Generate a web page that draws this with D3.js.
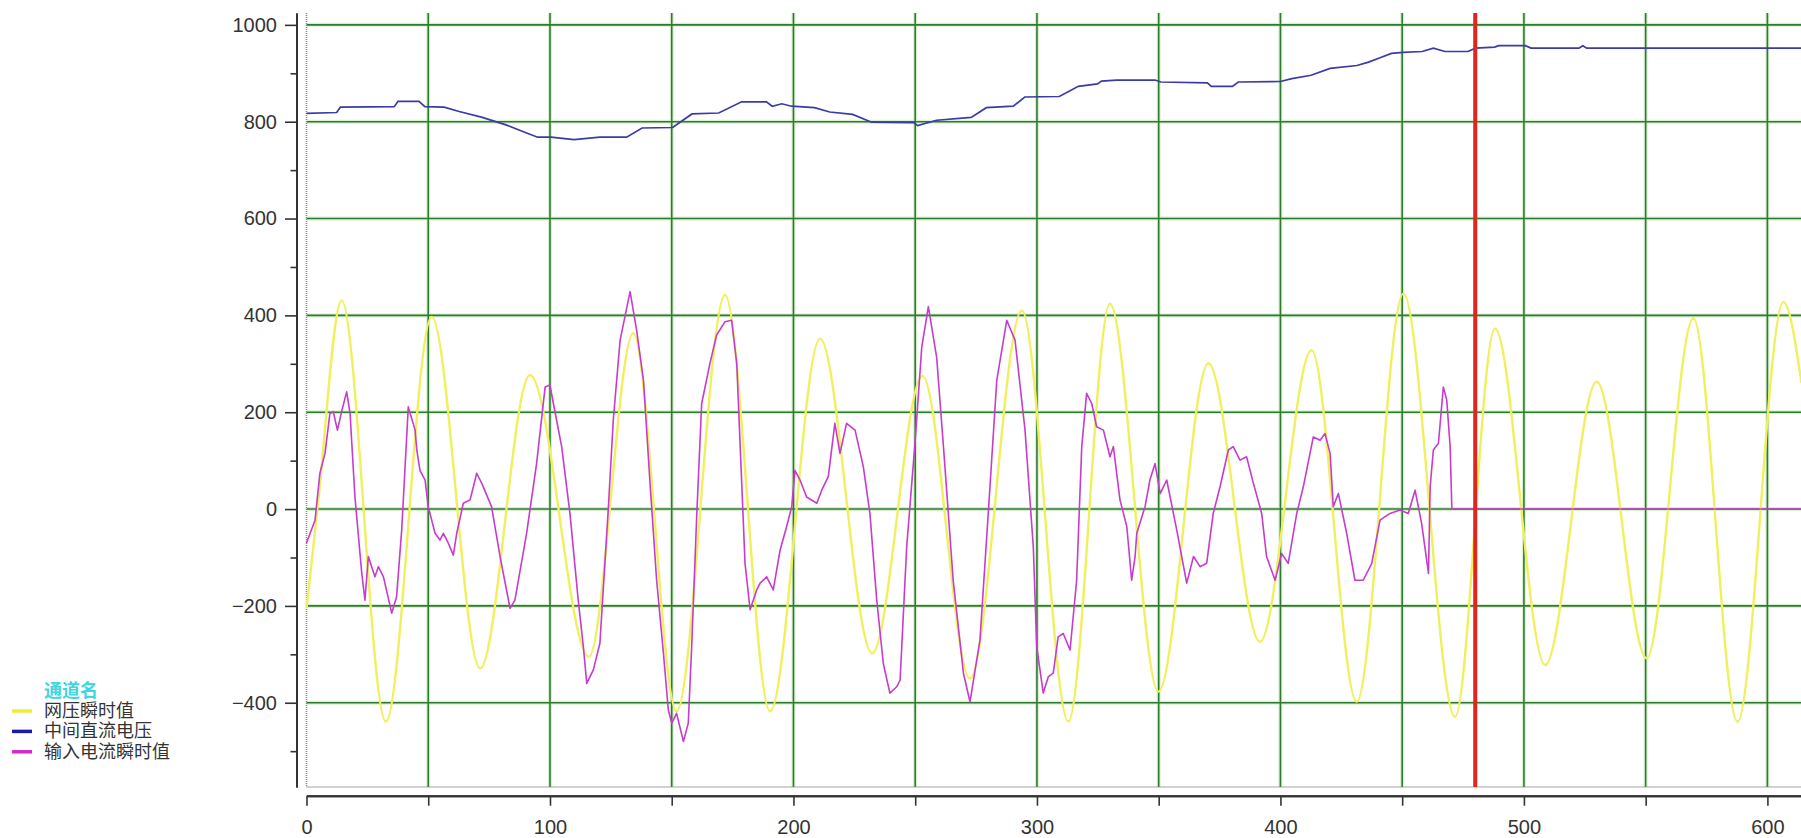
<!DOCTYPE html>
<html>
<head>
<meta charset="utf-8">
<script src="https://cdn.jsdelivr.net/npm/d3@7"></script>
<style>
  body { margin: 0; background: #fff; }
  svg { display: block; }
</style>
</head>
<body>
<svg id="chart"></svg>
<script>
// values: [sample index, value]
const gridVoltage = [
  [0, -205], [4.5, 0], [14.4, 431], [32.6, -439], [51.4, 397], [71.3, -329], [91.8, 277],
  [116, -305], [134.2, 363], [152, -418], [171.9, 442], [190.4, -418], [210.9, 352],
  [232.3, -298], [253, 275], [272.5, -350], [293.8, 410], [312.9, -439], [330, 424],
  [349.9, -377], [370.4, 301], [391.6, -274], [412.8, 328], [431.3, -398], [450.5, 445],
  [471.7, -429], [488.1, 373], [508.7, -322], [529.9, 263], [550.4, -308], [569.6, 394],
  [587.7, -439], [606.6, 428], [614, 260]
];

const dcBusVoltage = [
  [0, 817], [12.4, 819], [13.9, 830], [36, 831], [37.6, 842], [46.2, 842], [48.6, 831],
  [56.5, 830], [62.7, 821], [72.2, 809], [81.6, 794], [87.8, 782], [94.9, 768], [100.4, 768],
  [109.9, 763], [120.5, 768], [131.5, 768], [137.8, 787], [150.4, 788], [158.3, 816],
  [169.3, 818], [178.7, 841], [188.9, 841], [191.3, 832], [195.2, 837], [199.2, 832],
  [208.6, 829], [214.9, 820], [224.3, 815], [232.1, 799], [249.4, 798], [251, 792],
  [258.8, 803], [273, 809], [279.2, 829], [290.3, 832], [295, 851], [309.2, 852], [317, 873],
  [324.9, 878], [326.5, 884], [332.7, 886], [348.5, 886], [350.9, 882], [370, 880],
  [371.6, 873], [380.3, 873], [382.7, 882], [400, 883], [404.7, 889], [412.6, 896],
  [420.4, 910], [431.4, 916], [436.2, 923], [440.9, 932], [445.6, 941], [450.3, 943],
  [458.2, 945], [462.8, 952], [467.6, 945], [477, 945], [480.1, 952], [488, 954],
  [489.6, 957], [500.6, 957], [502.9, 952], [522.6, 952], [524.2, 957], [525.8, 952], [614, 952]
];

const inputCurrent = [
  [0, -70], [3.5, -23], [5.5, 74], [7.6, 115], [9.6, 197], [11, 201], [12.7, 163], [14.4, 201],
  [16.5, 242], [17.9, 197], [19.9, 25], [22.7, -133], [24, -188], [25.4, -98], [28.1, -140],
  [29.5, -119], [31.6, -140], [35, -215], [37, -181], [39.1, -43], [41.8, 211], [44.6, 163],
  [45.3, 122], [46.6, 80], [48.7, 60], [50, 5], [52.8, -50], [54.8, -64], [56.2, -50],
  [58.3, -71], [60.3, -95], [61.7, -50], [64.4, 12], [67.2, 19], [69.9, 74], [72, 53], [76, 5],
  [79.5, -98], [83.6, -205], [85.6, -188], [90.4, -50], [94.5, 94], [98, 252], [100, 256],
  [101.4, 218], [104.8, 129], [108.2, -9], [111.6, -188], [113.7, -284], [115.1, -360],
  [117.8, -332], [120.5, -277], [124, 5], [126, 184], [128.8, 349], [132.9, 449], [135.6, 369],
  [138.4, 266], [141, 60], [143.8, -147], [146.6, -298], [148.6, -415], [150, -442],
  [152, -422], [154.8, -480], [156.8, -442], [158.2, -284], [160.3, -9], [162.3, 218],
  [165.7, 301], [168.4, 359], [171.9, 387], [174.6, 390], [176.7, 301], [178.7, 60],
  [180.1, -112], [182.2, -208], [184.9, -167], [186.3, -153], [189, -140], [191.7, -167],
  [194.5, -85], [197.2, -36], [199.3, 5], [200.6, 80], [202.7, 60], [205.4, 25], [209.6, 12],
  [211.6, 39], [214.3, 67], [217, 177], [219.1, 115], [221.8, 177], [225.3, 163], [228.7, 87],
  [231.4, -9], [234.2, -188], [236.9, -319], [239.6, -380], [242.4, -367], [243.8, -353],
  [246.5, -78], [250, 142], [252.7, 335], [255.4, 418], [258.8, 314], [261.6, 129],
  [265.6, -147], [269.8, -339], [272.5, -398], [276.6, -270], [280, -9], [283.5, 266],
  [287.6, 390], [291, 349], [295.1, 163], [298.5, -78], [299.9, -284], [302.6, -380],
  [304.7, -346], [306.7, -339], [308.7, -264], [310.8, -257], [313.6, -291], [316.3, -147],
  [318.4, 129], [320.4, 239], [322.5, 218], [324.5, 170], [327.3, 163], [330, 108],
  [331.4, 129], [334.1, 19], [336.9, -36], [338.9, -147], [340.3, -98], [341, -50], [344.4, 5],
  [346.4, 60], [348.5, 94], [350.6, 32], [353.3, 60], [357.4, -43], [361.5, -153],
  [364.3, -98], [367, -119], [369.7, -112], [372.4, -9], [375.2, 46], [378.6, 122],
  [380.6, 129], [383.4, 101], [386.1, 108], [388.9, 53], [392.3, -9], [394.3, -98],
  [397.8, -147], [400.5, -92], [403.2, -112], [406.7, -9], [409.4, 46], [413.5, 149],
  [416.3, 142], [418.3, 156], [420.4, 115], [421.7, 5], [423.8, 32], [427.2, -50],
  [430.6, -147], [434, -147], [437.5, -112], [440.9, -23], [445, -9], [449.1, -2], [452.5, -9],
  [455.3, 39], [458, -30], [460.8, -133], [461.5, 46], [462.8, 122], [464.9, 136],
  [466.9, 252], [468.3, 225], [469.7, 129], [470.4, 0], [614, 0]
];

const cursorAt = 480;

const yMajorTicks = [-400, -200, 0, 200, 400, 600, 800, 1000];
const yMinorTicks = [-500, -300, -100, 100, 300, 500, 700, 900];
const xMajorTicks = [0, 100, 200, 300, 400, 500, 600];
const xMinorTicks = [50, 150, 250, 350, 450, 550];
const xGridLines = [50, 100, 150, 200, 250, 300, 350, 400, 450, 500, 550, 600];

const legendTitle = '通道名';
const seriesNames = ['网压瞬时值', '中间直流电压', '输入电流瞬时值'];
const legendColors = ['#eeee33', '#1a1aa8', '#d62ac8'];

const width = 1801, height = 838;
const plot = { left: 306.5, right: 1801, top: 13, bottom: 787 };

const svg = d3.select('#chart')
  .attr('width', width)
  .attr('height', height);

const x = d3.scaleLinear().domain([0, 613.8]).range([plot.left, plot.right]);
const y = d3.scaleLinear().domain([-574, 1024.5]).range([plot.bottom, plot.top]);

// grid
const grid = svg.append('g');
[['#d9f0cf', 4], ['#2f7a32', 1.6]].forEach(([col, w]) => {
  grid.selectAll(null)
    .data(yMajorTicks)
    .enter().append('line')
    .attr('x1', plot.left).attr('x2', plot.right)
    .attr('y1', d => y(d)).attr('y2', d => y(d))
    .attr('stroke', col).attr('stroke-width', w);
  grid.selectAll(null)
    .data(xGridLines)
    .enter().append('line')
    .attr('x1', d => x(d)).attr('x2', d => x(d))
    .attr('y1', plot.top).attr('y2', plot.bottom)
    .attr('stroke', col).attr('stroke-width', w);
});

// dotted plot frame
svg.append('line')
  .attr('x1', plot.left).attr('x2', plot.left)
  .attr('y1', plot.top).attr('y2', plot.bottom)
  .attr('stroke', '#888').attr('stroke-width', 1.5).attr('stroke-dasharray', '1,1');
svg.append('line')
  .attr('x1', plot.left).attr('x2', plot.right)
  .attr('y1', plot.bottom).attr('y2', plot.bottom)
  .attr('stroke', '#888').attr('stroke-width', 1.5).attr('stroke-dasharray', '1,1');

// series
const smooth = d3.line().x(d => x(d[0])).y(d => y(d[1])).curve(d3.curveMonotoneX);
const straight = d3.line().x(d => x(d[0])).y(d => y(d[1]));

svg.append('path')
  .datum(gridVoltage)
  .attr('d', smooth)
  .attr('fill', 'none')
  .attr('stroke', '#f0f05e')
  .attr('stroke-width', 2.4);

svg.append('path')
  .datum(inputCurrent)
  .attr('d', straight)
  .attr('fill', 'none')
  .attr('stroke', '#c63ccc')
  .attr('stroke-width', 1.6)
  .attr('stroke-linejoin', 'round');

svg.append('path')
  .datum(dcBusVoltage)
  .attr('d', straight)
  .attr('fill', 'none')
  .attr('stroke', '#3b3ba6')
  .attr('stroke-width', 1.7);

// cursor
svg.append('line')
  .attr('x1', x(cursorAt)).attr('x2', x(cursorAt))
  .attr('y1', plot.top).attr('y2', plot.bottom)
  .attr('stroke', '#e3241c').attr('stroke-width', 4);

// axes
const axisFont = '"Liberation Sans", Arial, sans-serif';
const yAxisX = 296.5;

function styleAxis(g) {
  g.attr('font-family', axisFont).attr('font-size', 20);
  g.select('.domain').attr('stroke', '#333').attr('stroke-width', 2);
  g.selectAll('.tick line').attr('stroke', '#333').attr('stroke-width', 1.6);
  g.selectAll('.tick text').attr('fill', '#333');
}

svg.append('g')
  .attr('transform', `translate(${yAxisX},0)`)
  .call(d3.axisLeft(y).tickValues(yMajorTicks).tickFormat(d3.format('d'))
    .tickSize(11.5).tickPadding(8).tickSizeOuter(0))
  .call(styleAxis);

svg.append('g')
  .attr('transform', `translate(${yAxisX},0)`)
  .call(d3.axisLeft(y).tickValues(yMinorTicks).tickSize(6).tickFormat('').tickSizeOuter(0))
  .call(styleAxis);

const xAxisY = 795.7;
svg.append('g')
  .attr('transform', `translate(0,${xAxisY})`)
  .call(d3.axisBottom(x).tickValues(xMajorTicks).tickFormat(d3.format('d'))
    .tickSize(10).tickPadding(14).tickSizeOuter(0))
  .call(styleAxis);

svg.append('g')
  .attr('transform', `translate(0,${xAxisY})`)
  .call(d3.axisBottom(x).tickValues(xMinorTicks).tickSize(10).tickFormat('').tickSizeOuter(0))
  .call(styleAxis);

// legend (rows are packed tight, as in the recorder UI)
const legendFont = '"Liberation Sans", "Noto Sans CJK SC", sans-serif';
const rowGap = 20.4;
const legend = svg.append('g');
legend.append('text')
  .attr('x', 44).attr('y', 690.5)
  .attr('dominant-baseline', 'central')
  .attr('font-family', legendFont).attr('font-size', 18).attr('font-weight', 700)
  .attr('fill', '#3ed6df')
  .text(legendTitle);

const item = legend.selectAll('.item')
  .data(seriesNames)
  .enter().append('g')
  .attr('class', 'item')
  .attr('transform', (d, i) => `translate(0,${711 + i * rowGap})`);

item.append('line')
  .attr('x1', 12).attr('x2', 32)
  .attr('stroke', (d, i) => legendColors[i])
  .attr('stroke-width', 3.5);

item.append('text')
  .attr('x', 44)
  .attr('dominant-baseline', 'central')
  .attr('font-family', legendFont).attr('font-size', 18)
  .attr('fill', '#333')
  .text(d => d);
</script>
</body>
</html>
